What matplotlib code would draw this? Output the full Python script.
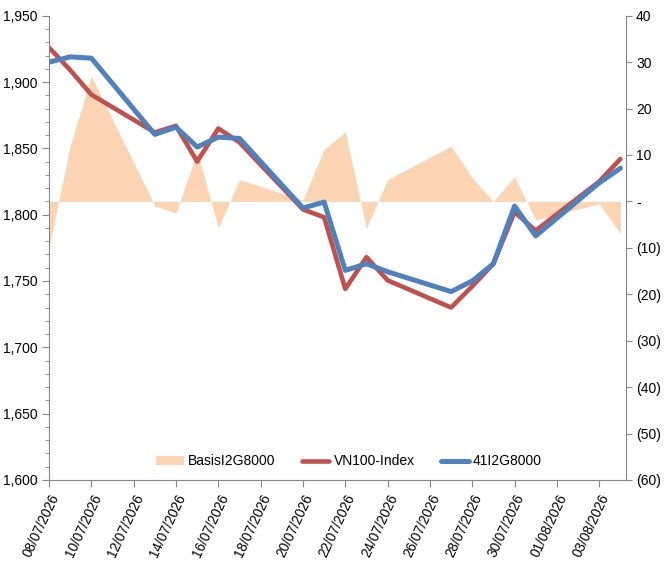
import matplotlib
matplotlib.use("Agg")
from matplotlib import pyplot as plt
from matplotlib.ticker import MultipleLocator, FuncFormatter
import pandas as pd

plt.rcParams['font.family'] = ['Liberation Sans', 'DejaVu Sans']

# trading days
dates = pd.to_datetime([
    "2026-07-08", "2026-07-09", "2026-07-10", "2026-07-13", "2026-07-14",
    "2026-07-15", "2026-07-16", "2026-07-17", "2026-07-20", "2026-07-21",
    "2026-07-22", "2026-07-23", "2026-07-24", "2026-07-27", "2026-07-28",
    "2026-07-29", "2026-07-30", "2026-07-31", "2026-08-03", "2026-08-04",
])
basis = [-10, 12, 27, -1, -2.5, 10.8, -5.7, 4.7, 0.3, 11.3,
         14.9, -5.8, 4.7, 11.9, 5.1, 0, 5.3, -4, -0.5, -6.9]
vn100 = [1926, 1909, 1890.5, 1862, 1867, 1840, 1865, 1854.5, 1804, 1798,
         1744, 1768, 1750.5, 1730, 1746, 1763, 1802, 1788, 1825, 1842]
fut = [1915, 1919, 1918, 1860.5, 1866, 1851, 1858.5, 1857.5, 1805, 1809.5,
       1758, 1763, 1757, 1742, 1750, 1763, 1806.5, 1784, 1824, 1835]

grey = "#868686"

fig = plt.figure(figsize=(6.72, 5.62), dpi=100)
ax = fig.add_axes([0.073, 0.146, 0.858, 0.826])
ax2 = ax.twinx()

# basis area on the right axis, drawn below the lines
ax2.fill_between(dates, 0, basis, color="#FBD4B4", linewidth=0, label="BasisI2G8000")
ax2.set_ylim(-60, 40)
ax2.yaxis.set_major_locator(MultipleLocator(10))

def paren_fmt(v, pos):
    if abs(v) < 1e-9:
        return "-"
    if v < 0:
        return f"({abs(v):.0f})"
    return f"{v:.0f}"

ax2.yaxis.set_major_formatter(FuncFormatter(paren_fmt))

ax.set_zorder(ax2.get_zorder() + 1)
ax.patch.set_visible(False)

ax.plot(dates, vn100, color="#C0504D", linewidth=3.3, label="VN100-Index", solid_capstyle="round")
ax.plot(dates, fut, color="#4F81BD", linewidth=3.6, label="41I2G8000", solid_capstyle="round")

ax.set_ylim(1600, 1950)
ax.yaxis.set_major_locator(MultipleLocator(50))
ax.yaxis.set_minor_locator(MultipleLocator(10))
ax.yaxis.set_major_formatter(FuncFormatter(lambda v, p: f"{v:,.0f}"))

ax.set_xlim(pd.Timestamp("2026-07-08"), pd.Timestamp("2026-08-04 06:00"))
ticks = pd.date_range("2026-07-08", "2026-08-03", freq="2D")
ax.set_xticks(ticks)
ax.set_xticklabels([d.strftime("%d/%m/%Y") for d in ticks], rotation=65, ha="right",
                   rotation_mode="anchor")

for a in (ax, ax2):
    a.spines["top"].set_visible(False)
    for s in ("left", "right", "bottom"):
        a.spines[s].set_color(grey)
    a.tick_params(colors=grey, labelcolor="black", labelsize=10)
ax.spines["right"].set_visible(False)
ax2.spines["left"].set_visible(False)
ax2.spines["bottom"].set_visible(False)
ax.tick_params(axis="y", which="major", length=5)
ax.tick_params(axis="y", which="minor", length=3, color=grey)
ax.tick_params(axis="x", length=5, labelsize=9.8)
ax2.tick_params(axis="y", length=4)

h1, l1 = ax2.get_legend_handles_labels()
h2, l2 = ax.get_legend_handles_labels()
leg = ax.legend(h1 + h2, l1 + l2, loc="center", bbox_to_anchor=(0.52, 0.04),
                ncol=3, frameon=False, fontsize=10, handlelength=2.0,
                columnspacing=1.9, handletextpad=0.3)

fig.savefig("out.png", dpi=100)
